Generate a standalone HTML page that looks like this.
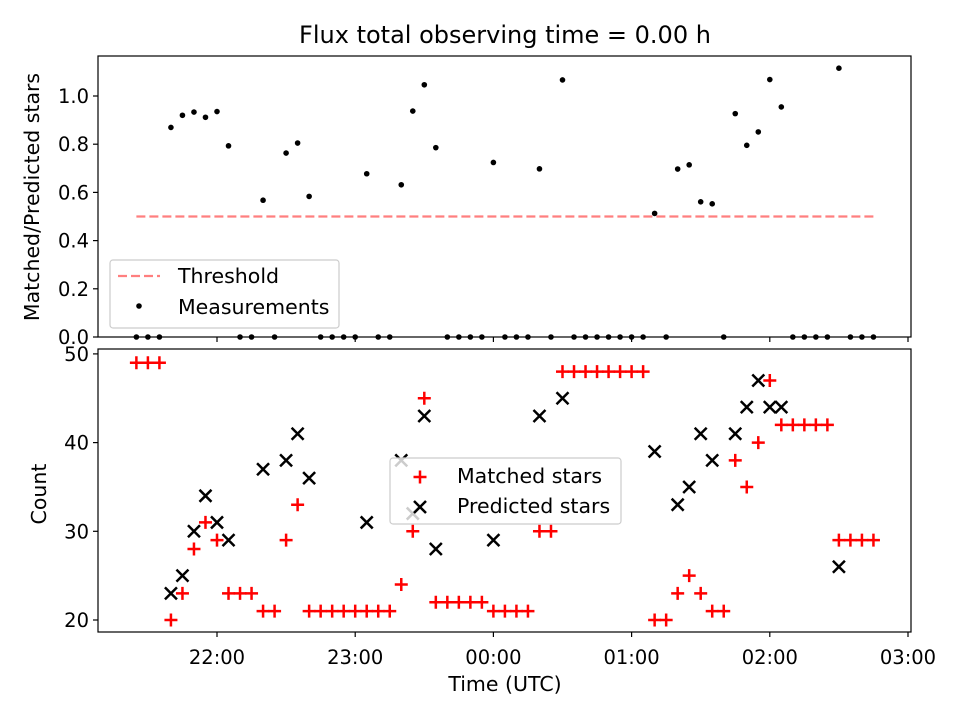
<!DOCTYPE html>
<html><head><meta charset="utf-8"><style>
body{margin:0;background:#fff}
svg{display:block;font-family:"DejaVu Sans","Liberation Sans",sans-serif}
</style></head><body>
<svg id="c" width="960" height="720" viewBox="0 0 960 720"></svg>
<script>
// data: index k => time = 21:25 + 5*k minutes
const matchedIdx = [0,1,2,3,4,5,6,7,8,9,10,11,12,13,14,15,16,17,18,19,20,21,22,23,24,25,26,27,28,29,30,31,32,33,34,35,36,37,38,39,40,41,42,43,44,45,46,47,48,49,50,51,52,53,54,55,56,57,58,59,60,61,62,63,64];
const matchedVals = [49,49,49,20,23,28,31,29,23,23,23,21,21,29,33,21,21,21,21,21,21,21,21,24,30,45,22,22,22,22,22,21,21,21,21,30,30,48,48,48,48,48,48,48,48,20,20,23,25,23,21,21,38,35,40,47,42,42,42,42,42,29,29,29,29];
const predictedIdx = [3,4,5,6,7,8,11,13,14,15,20,23,24,25,26,31,35,37,45,47,48,49,50,52,53,54,55,56,61];
const predictedVals = [23,25,30,34,31,29,37,38,41,36,31,38,32,43,28,29,43,45,39,33,35,41,38,41,44,47,44,44,26];
const xTickLabels = ["22:00","23:00","00:00","01:00","02:00","03:00"];
const topTicks = ["0.0","0.2","0.4","0.6","0.8","1.0"];
const bottomTicks = [20,30,40,50];
const threshold = 0.5;

const NS="http://www.w3.org/2000/svg";
const svg=document.getElementById('c');
function el(tag,attrs,parent){const e=document.createElementNS(NS,tag);for(const k in attrs)e.setAttribute(k,attrs[k]);(parent||svg).appendChild(e);return e;}
function txt(s,attrs,parent){const e=el('text',attrs,parent);e.textContent=s;return e;}

const L=98,R=911,T1=56,B1=337,T2=349,B2=632;
const FT=19.5, FL=20.5;
const minOf=k=>k*5-35; // minutes from 22:00
const xs=m=>217+m*138.2/60;
const y1=v=>337-v*241;
const y2=v=>620-(v-20)*8.87;

const title=txt("Flux total observing time = 0.00 h",{x:505,y:43,'text-anchor':'middle','font-size':24});


const f1=el('rect',{x:L,y:T1,width:R-L,height:B1-T1,fill:'none',stroke:'#000','stroke-width':1.2});

const f2=el('rect',{x:L,y:T2,width:R-L,height:B2-T2,fill:'none',stroke:'#000','stroke-width':1.2});


xTickLabels.forEach((lab,i)=>{
  const x=xs(i*60);
  el('line',{x1:x,x2:x,y1:B1,y2:B1+5,stroke:'#000','stroke-width':1.2});
  el('line',{x1:x,x2:x,y1:B2,y2:B2+5,stroke:'#000','stroke-width':1.2});
  const t=txt(lab,{x:x,y:B2+32,'text-anchor':'middle','font-size':FT});
  
});
const xl=txt("Time (UTC)",{x:505,y:691,'text-anchor':'middle','font-size':FL});


topTicks.forEach(s=>{
  const y=y1(parseFloat(s));
  el('line',{x1:L-5,x2:L,y1:y,y2:y,stroke:'#000','stroke-width':1.2});
  const t=txt(s,{x:L-9,y:y+7,'text-anchor':'end','font-size':FT});
  
});
const yl1=txt("Matched/Predicted stars",{x:39,y:197,'text-anchor':'middle','font-size':FL,transform:'rotate(-90 39 197)'});


bottomTicks.forEach(v=>{
  const y=y2(v);
  el('line',{x1:L-5,x2:L,y1:y,y2:y,stroke:'#000','stroke-width':1.2});
  const t=txt(String(v),{x:L-9,y:y+7,'text-anchor':'end','font-size':FT});
  
});
const yl2=txt("Count",{x:46,y:494,'text-anchor':'middle','font-size':FL,transform:'rotate(-90 46 494)'});


const th=el('line',{x1:xs(minOf(0)),x2:xs(minOf(64)),y1:y1(threshold),y2:y1(threshold),stroke:'#ff7f7f','stroke-width':2.2,'stroke-dasharray':'9,4'});


const predMap={};predictedIdx.forEach((k,i)=>predMap[k]=predictedVals[i]);
matchedIdx.forEach((k,i)=>{
  const p=predMap[k];const r=p?matchedVals[i]/p:0;
  const c=el('circle',{cx:xs(minOf(k)),cy:y1(r),r:2.8,fill:'#000'});
  
  
});

function plus(x,y,color,g){el('path',{d:`M${x-6.5},${y}H${x+6.5}M${x},${y-6.5}V${y+6.5}`,stroke:color,'stroke-width':2.5},g);}
function cross(x,y,g){el('path',{d:`M${x-6},${y-6}L${x+6},${y+6}M${x-6},${y+6}L${x+6},${y-6}`,stroke:'#000','stroke-width':2.5},g);}
matchedIdx.forEach((k,i)=>{
  const g=el('g',{});
  
  
  plus(xs(minOf(k)),y2(matchedVals[i]),'#ff0000',g);
});
predictedIdx.forEach((k,i)=>{
  const g=el('g',{});
  
  
  cross(xs(minOf(k)),y2(predictedVals[i]),g);
});

const lg1=el('g',{});
el('rect',{x:110,y:260,width:229,height:68,rx:3,fill:'#fff','fill-opacity':0.8,stroke:'#ccc','stroke-width':1.2},lg1);
el('line',{x1:118,x2:160,y1:276,y2:276,stroke:'#ff7f7f','stroke-width':2.2,'stroke-dasharray':'9,4'},lg1);
txt("Threshold",{x:178,y:283,'font-size':FL},lg1);
el('circle',{cx:139,cy:306,r:2.8,fill:'#000'},lg1);
txt("Measurements",{x:178,y:314,'font-size':FL},lg1);

const lg2=el('g',{});
el('rect',{x:390,y:458,width:231,height:66,rx:3,fill:'#fff','fill-opacity':0.8,stroke:'#ccc','stroke-width':1.2},lg2);
plus(420,477,'#ff0000',lg2);
txt("Matched stars",{x:457,y:483,'font-size':FL},lg2);
cross(420,507,lg2);
txt("Predicted stars",{x:457,y:513,'font-size':FL},lg2);
</script>
</body></html>
